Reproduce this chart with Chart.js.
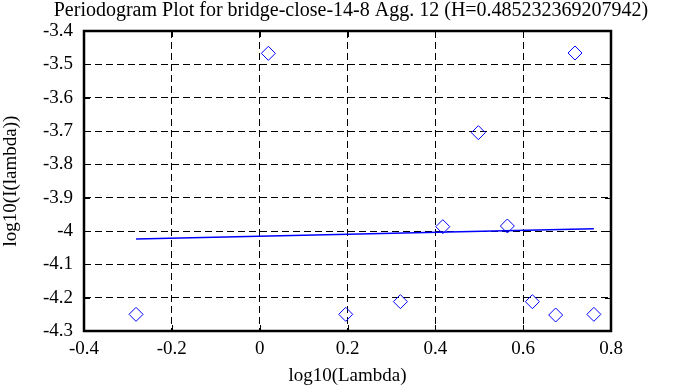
<!DOCTYPE html>
<html>
<head>
<meta charset="utf-8">
<script src="https://cdn.jsdelivr.net/npm/chart.js@4"></script>
<style>
  html, body { margin: 0; padding: 0; background: #fff; }
  #wrap { width: 695px; height: 387px; }
</style>
</head>
<body>
<div id="wrap"><canvas id="chart" width="695" height="387"></canvas></div>
<script>
// Periodogram points, log10 scale
const logLambda = [-0.2815, 0.0198, 0.196, 0.3205, 0.417, 0.498, 0.564, 0.621, 0.674, 0.718, 0.761];
const logPower  = [-4.250, -3.467, -4.250, -4.212, -3.987, -3.705, -3.985, -4.212, -4.252, -3.466, -4.250];

// least squares fit line, endpoints
const fitX = [-0.2815, 0.761];
const fitY = [-4.0241, -3.9933];

const xTicks = [-0.4, -0.2, 0, 0.2, 0.4, 0.6, 0.8];
const yTicks = [-4.3, -4.2, -4.1, -4, -3.9, -3.8, -3.7, -3.6, -3.5, -3.4];

const TITLE = 'Periodogram Plot for bridge-close-14-8 Agg. 12 (H=0.485232369207942)';
const FONT = '"Liberation Serif", "DejaVu Serif", serif';

// frame + inward tick marks + title, like the gnuplot original
const framePlugin = {
  id: 'frame',
  afterDraw(chart) {
    const { ctx, chartArea: a, scales } = chart;
    ctx.save();
    ctx.strokeStyle = '#000';
    ctx.lineWidth = 1;
    const len = 6;
    ctx.beginPath();
    yTicks.forEach(v => {
      const y = Math.round(scales.y.getPixelForValue(v)) + 0.5;
      ctx.moveTo(a.left, y); ctx.lineTo(a.left + len, y);
      ctx.moveTo(a.right, y); ctx.lineTo(a.right - len, y);
    });
    xTicks.forEach(v => {
      const x = Math.round(scales.x.getPixelForValue(v)) + 0.5;
      ctx.moveTo(x, a.top); ctx.lineTo(x, a.top + len);
      ctx.moveTo(x, a.bottom); ctx.lineTo(x, a.bottom - len);
    });
    ctx.stroke();
    ctx.lineWidth = 2.5;
    ctx.strokeRect(a.left, a.top, a.right - a.left, a.bottom - a.top);

    ctx.fillStyle = '#000';
    ctx.font = '20px ' + FONT;
    ctx.textAlign = 'center';
    ctx.textBaseline = 'alphabetic';
    ctx.fillText(TITLE, 351, 16);
    ctx.restore();
  }
};

const tickFmt = v => String(Math.round(v * 10) / 10);

new Chart(document.getElementById('chart'), {
  type: 'scatter',
  data: {
    datasets: [
      {
        label: 'periodogram',
        data: logLambda.map((x, i) => ({ x, y: logPower[i] })),
        pointStyle: 'rectRot',
        pointRadius: 7,
        pointHoverRadius: 7,
        borderColor: '#0000ff',
        backgroundColor: 'rgba(0,0,0,0)',
        borderWidth: 1
      },
      {
        type: 'line',
        label: 'fit',
        data: fitX.map((x, i) => ({ x, y: fitY[i] })),
        borderColor: '#0000ff',
        borderWidth: 1.5,
        pointRadius: 0,
        fill: false
      }
    ]
  },
  plugins: [framePlugin],
  options: {
    responsive: false,
    animation: false,
    layout: { padding: { top: 31, right: 84, left: 0, bottom: 0 } },
    plugins: { legend: { display: false }, tooltip: { enabled: false }, title: { display: false } },
    scales: {
      x: {
        type: 'linear',
        min: -0.4, max: 0.8,
        afterBuildTicks: s => { s.ticks = xTicks.map(value => ({ value })); },
        afterFit: s => { s.height = 56; },
        grid: { color: '#000', lineWidth: 1, drawTicks: false },
        border: { display: false, dash: [7, 4] },
        ticks: { color: '#000', font: { family: FONT, size: 19 }, padding: 7, callback: tickFmt, maxRotation: 0 },
        title: { display: true, text: 'log10(Lambda)', color: '#000', font: { family: FONT, size: 19 }, padding: { top: 0, bottom: 0 } }
      },
      y: {
        type: 'linear',
        min: -4.3, max: -3.4,
        afterBuildTicks: s => { s.ticks = yTicks.map(value => ({ value })); },
        afterFit: s => { s.width = 84; },
        grid: { color: '#000', lineWidth: 1, drawTicks: false },
        border: { display: false, dash: [7, 4] },
        ticks: { color: '#000', font: { family: FONT, size: 19 }, padding: 11, callback: tickFmt },
        title: { display: true, text: 'log10(I(lambda))', color: '#000', font: { family: FONT, size: 19 }, padding: { top: 0, bottom: 0 } }
      }
    }
  }
});
</script>
</body>
</html>
